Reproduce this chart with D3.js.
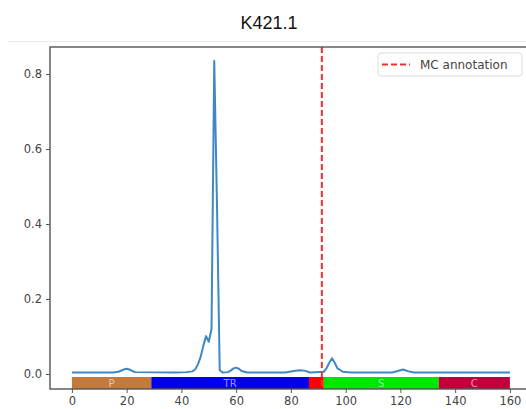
<!DOCTYPE html>
<html>
<head>
<meta charset="utf-8">
<script src="https://cdn.jsdelivr.net/npm/d3@7"></script>
<style>
  body { margin: 0; background: #fff; }
  svg { display: block; font-family: "DejaVu Sans", sans-serif; }
</style>
</head>
<body>
<div id="chart"></div>
<script>
// profile along the sequence (position, score)
var positions = [0, 15, 17, 19, 20, 21, 23, 38, 42, 44, 45, 46, 47, 48, 49, 50, 51, 52, 53, 54, 55,
                 57, 58, 59, 60, 61, 62, 64, 78, 81, 83, 85, 87, 92, 93, 94, 95, 96, 97, 99, 102,
                 117, 119, 121, 123, 125, 160];
var scores = [0.004, 0.004, 0.006, 0.012, 0.014, 0.012, 0.005, 0.004, 0.005, 0.007, 0.012, 0.025, 0.045, 0.075, 0.101, 0.086, 0.12, 0.835, 0.45, 0.01, 0.004,
              0.005, 0.009, 0.015, 0.017, 0.014, 0.008, 0.004, 0.004, 0.008, 0.01, 0.009, 0.004, 0.006, 0.015, 0.03, 0.042, 0.03, 0.015, 0.006, 0.004,
              0.004, 0.008, 0.012, 0.007, 0.004, 0.004];

// domain segments along the bottom
var regionNames = ["P", "TR", "", "S", "C"];
var regionStart = [0, 29, 86.6, 92, 134];
var regionEnd = [29, 86.6, 92, 134, 160];
var regionColors = ["#c47a3c", "#0000ee", "#ff0000", "#00e600", "#c0003c"];

var mcAnnotation = 91.3;
var xTicks = [0, 20, 40, 60, 80, 100, 120, 140, 160];
var yTicks = [0.0, 0.2, 0.4, 0.6, 0.8];

var W = 526, H = 409;
var svg = d3.select('#chart').append('svg').attr('width', W).attr('height', H);

var xScale = d3.scaleLinear().domain([-8, 168]).range([50, 531.8]);
var yScale = d3.scaleLinear().domain([-0.04, 0.872]).range([389, 47]);

// faint line above the frame
svg.append('line').attr('x1', 8).attr('x2', W).attr('y1', 41.5).attr('y2', 41.5)
    .attr('stroke', '#ececec').attr('stroke-width', 1);

// title
svg.append('text').attr('x', 269).attr('y', 29).attr('text-anchor', 'middle')
    .attr('font-family', 'Liberation Sans, Arial, sans-serif')
    .attr('font-size', 18).attr('fill', '#111').text('K421.1');

// region bars
var bars = svg.append('g');
regionNames.forEach(function(name, i){
    bars.append('rect')
        .attr('x', xScale(regionStart[i]))
        .attr('width', xScale(regionEnd[i]) - xScale(regionStart[i]))
        .attr('y', yScale(-0.008))
        .attr('height', yScale(-0.04) - yScale(-0.008))
        .attr('fill', regionColors[i]);
    if(name){
        bars.append('text')
            .attr('x', xScale((regionStart[i] + regionEnd[i]) / 2))
            .attr('y', yScale(-0.024) + 3.5)
            .attr('text-anchor', 'middle')
            .attr('font-size', 10)
            .attr('fill', 'rgba(255,255,255,0.6)')
            .text(name);
    }
});

// profile line
var line = d3.line()
    .x(function(d, i){ return xScale(positions[i]); })
    .y(function(d){ return yScale(d); });
svg.append('path').datum(scores)
    .attr('d', line)
    .attr('fill', 'none')
    .attr('stroke', '#3f88c5')
    .attr('stroke-width', 2)
    .attr('stroke-linejoin', 'round');

// MC annotation
svg.append('line')
    .attr('x1', xScale(mcAnnotation)).attr('x2', xScale(mcAnnotation))
    .attr('y1', yScale(0.872)).attr('y2', yScale(-0.04))
    .attr('stroke', '#f03030').attr('stroke-width', 2)
    .attr('stroke-dasharray', '6,3');

// axes
var xAxis = d3.axisBottom(xScale).tickValues(xTicks).tickSize(4).tickPadding(4).tickFormat(d3.format('d'));
var gx = svg.append('g').attr('transform', 'translate(0,389)').call(xAxis);
var yAxis = d3.axisLeft(yScale).tickValues(yTicks).tickSize(4).tickPadding(4).tickFormat(d3.format('.1f'));
var gy = svg.append('g').attr('transform', 'translate(50,0)').call(yAxis);
[gx, gy].forEach(function(g){
    g.select('.domain').remove();
    g.selectAll('.tick line').attr('stroke', '#555').attr('stroke-width', 1);
    g.selectAll('.tick text').attr('fill', '#444').attr('font-size', 11.5)
        .attr('font-family', 'DejaVu Sans, sans-serif');
});

// spines (right one sits outside the picture)
svg.append('rect')
    .attr('x', 50).attr('y', 47)
    .attr('width', xScale(168) - 50).attr('height', 389 - 47)
    .attr('fill', 'none').attr('stroke', '#555').attr('stroke-width', 1.4);

// legend
var lg = svg.append('g').attr('transform', 'translate(378,53)');
lg.append('rect').attr('width', 144).attr('height', 23).attr('rx', 3)
    .attr('fill', '#fff').attr('stroke', '#ddd');
lg.append('line').attr('x1', 4).attr('x2', 32).attr('y1', 11.5).attr('y2', 11.5)
    .attr('stroke', '#f03030').attr('stroke-width', 2).attr('stroke-dasharray', '6,3');
lg.append('text').attr('x', 42).attr('y', 16).attr('font-size', 12)
    .attr('fill', '#444').text('MC annotation');
</script>
</body>
</html>
